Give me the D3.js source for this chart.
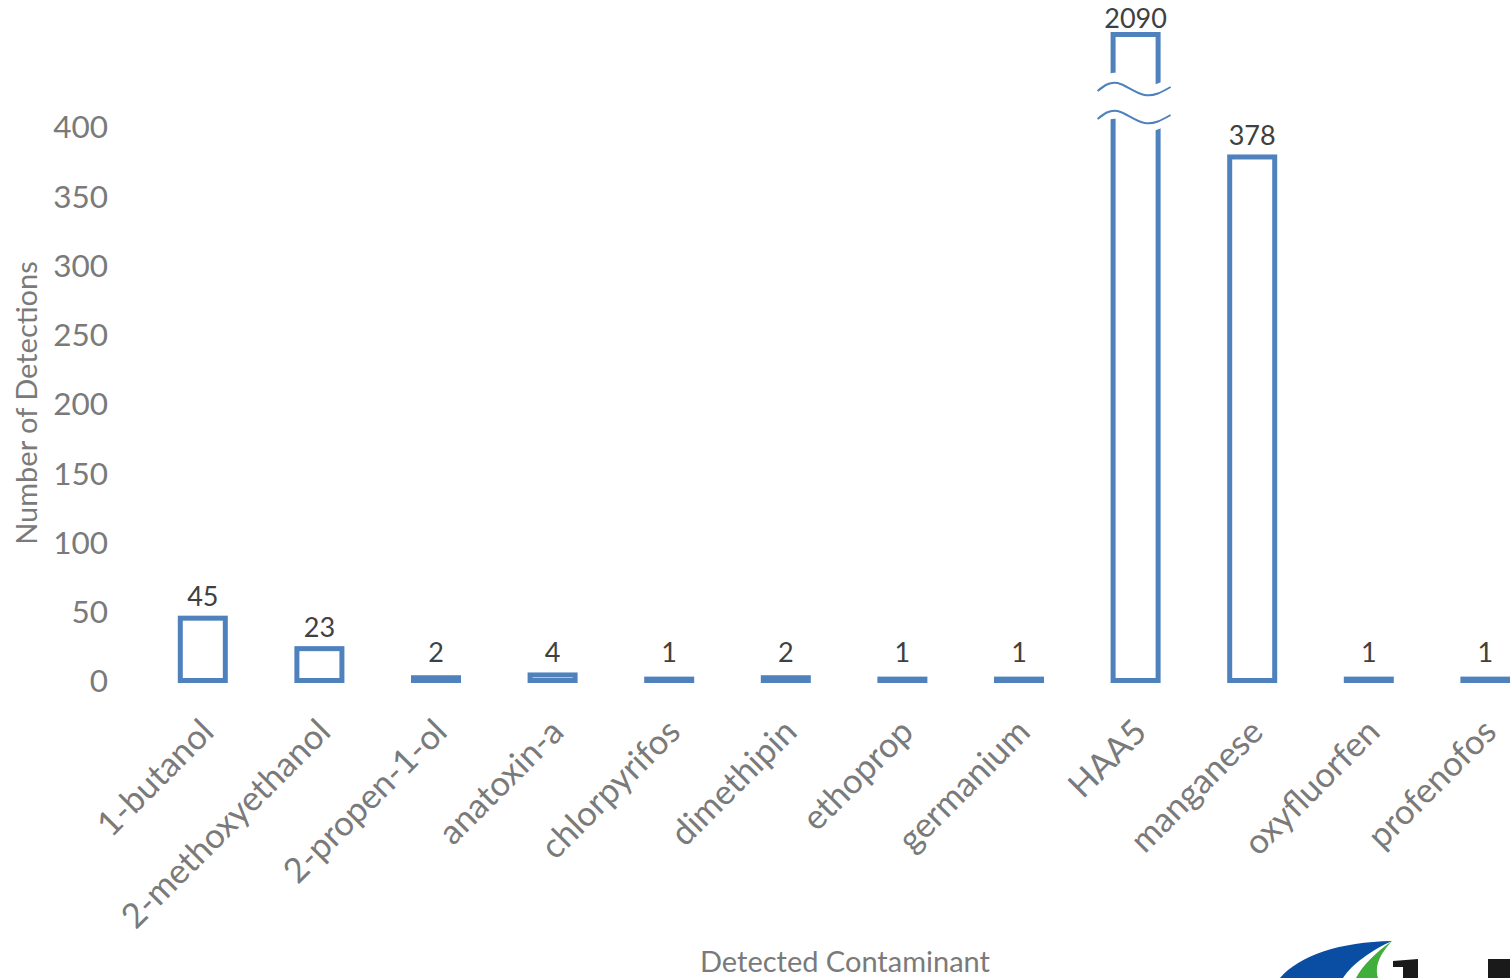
<!DOCTYPE html>
<html><head><meta charset="utf-8">
<script src="https://cdn.jsdelivr.net/npm/d3@7"></script>
<style>html,body{margin:0;padding:0;background:#fff;overflow:hidden}</style>
</head><body>
<svg id="c" width="1510" height="978"></svg>
<script>
const categories = ["1-butanol","2-methoxyethanol","2-propen-1-ol","anatoxin-a","chlorpyrifos","dimethipin","ethoprop","germanium","HAA5","manganese","oxyfluorfen","profenofos"];
const detections = [45,23,2,4,1,2,1,1,2090,378,1,1];
const yTicks = [0,50,100,150,200,250,300,350,400];
const breakValue = 400;
const xTitle = "Detected Contaminant";
const yTitle = "Number of Detections";

const svg = d3.select("#c");
const font = "Lato, 'Open Sans', sans-serif";
const blue = "#4f81bd";
const gray = "#7a7a7a";

const x = d3.scaleBand().domain(categories).range([144.5, 1543.7]).paddingInner(0.614).paddingOuter(0.307);
// broken axis: linear up to 400, compressed above
const y = d3.scaleLinear().domain([0, breakValue, 2090]).range([680.5, 126.5, 34.5]);

// y axis labels
const yAxis = d3.axisLeft(y).tickValues(yTicks).tickSize(0).tickPadding(0);
const gy = svg.append("g").attr("transform","translate(108,0)").call(yAxis);
gy.select(".domain").remove();
gy.selectAll("text").attr("font-family",font).attr("font-size",31.5).attr("fill",gray).attr("dy","0.36em");

// x axis labels
const xAxis = d3.axisBottom(x).tickSize(0).tickPadding(0);
const gx = svg.append("g").attr("transform","translate(0,700)").call(xAxis);
gx.select(".domain").remove();
gx.selectAll("text").attr("font-family",font).attr("font-size",34.5).attr("fill",gray)
  .attr("text-anchor","end").attr("dy",null).attr("y",0)
  .attr("transform","translate(13,34) rotate(-45)");

// bars
const bw = x.bandwidth();
svg.append("g").selectAll("rect").data(detections).join("rect")
  .attr("x",(d,i)=>x(categories[i]))
  .attr("y",d=>y(d))
  .attr("width",bw)
  .attr("height",d=>y(0)-y(d))
  .attr("fill","#fff").attr("stroke",blue).attr("stroke-width",5);

// break on HAA5
const hi = detections.indexOf(2090);
const bx = x(categories[hi]) + bw/2;
const wavePts = c => [[bx-38,c+2],[bx-18,c-6],[bx+9,c+6],[bx+35,c-2]];
const wl = d3.line().curve(d3.curveNatural);
const up = 89, lo = 117;
const topEdge = wavePts(up-10), botEdge = wavePts(lo+8).reverse();
svg.append("path")
  .attr("d", wl(topEdge) + "L" + wl(botEdge).slice(1) + "Z")
  .attr("fill","#fff").attr("stroke","none");
svg.append("path").attr("d",wl(wavePts(up))).attr("fill","none").attr("stroke",blue).attr("stroke-width",2);
svg.append("path").attr("d",wl(wavePts(lo))).attr("fill","none").attr("stroke",blue).attr("stroke-width",2);

// data labels
svg.append("g").selectAll("text").data(detections).join("text")
  .attr("x",(d,i)=>x(categories[i])+bw/2)
  .attr("y",d=>Math.max(28, Math.min(y(d)-12, 662)))
  .attr("text-anchor","middle").attr("font-family",font).attr("font-size",27).attr("fill","#404040")
  .text(d=>d);

// axis titles
svg.append("text").attr("x",845).attr("y",972).attr("text-anchor","middle")
  .attr("font-family",font).attr("font-size",29).attr("fill",gray).text(xTitle);
svg.append("text").attr("transform","translate(37,403) rotate(-90)").attr("text-anchor","middle")
  .attr("font-family",font).attr("font-size",29).attr("fill",gray).text(yTitle);

// partial logo at bottom right
const logo = svg.append("g");
logo.append("path").attr("d","M1280,978 C1300,955 1340,942 1392,941 C1372,950 1352,964 1343,978 Z").attr("fill","#0a4ea3");
logo.append("path").attr("d","M1392,941 C1382,952 1374,964 1378,978 L1356,978 C1362,966 1376,952 1392,941 Z").attr("fill","#3fae3a");
logo.append("path").attr("d","M1393,967 L1393,961 L1418,959 L1418,978 L1403,978 L1403,967 Z").attr("fill","#1a1a1a");
logo.append("path").attr("d","M1488,959 L1510,959 L1510,978 L1488,978 Z").attr("fill","#1a1a1a");
</script>
</body></html>
